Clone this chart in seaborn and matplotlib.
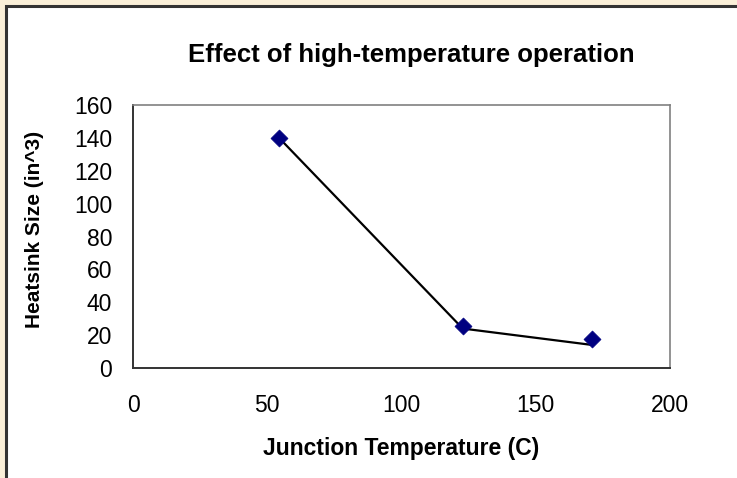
import matplotlib
matplotlib.use("Agg")
import matplotlib.pyplot as plt
import seaborn as sns
import pandas as pd
from matplotlib.patches import Rectangle

# Data
junction_temp = [54.4, 122.8, 171.1]
heatsink_size = [140.0, 25.7, 17.8]
line_temp = [54.4, 122.8, 171.1]
line_size = [140.0, 24.0, 14.0]
x_ticks = [0, 50, 100, 150, 200]
y_ticks = [0, 20, 40, 60, 80, 100, 120, 140, 160]

title = "Effect of high-temperature operation"
xlabel = "Junction Temperature (C)"
ylabel = "Heatsink Size (in^3)"

sns.set_theme(style="white")
plt.rcParams['font.family'] = ['Liberation Sans', 'DejaVu Sans']

W, H = 737, 478
fig = plt.figure(figsize=(W / 100, H / 100), dpi=100)
fig.patch.set_facecolor("#FAEFD8")

# white chart area with dark border
fig.patches.append(Rectangle((6 / W, -0.05), 1.1, 1 - 6 / H + 0.05,
                             transform=fig.transFigure, facecolor="white",
                             edgecolor="#333333", linewidth=2.2, zorder=-5))

ax = fig.add_axes([133 / W, 1 - 368 / H, (670 - 133) / W, (368 - 105) / H])
ax.set_zorder(2)
ax.set_facecolor("white")

pts = pd.DataFrame({"temp": junction_temp, "size": heatsink_size})
ln = pd.DataFrame({"temp": line_temp, "size": line_size})

sns.lineplot(data=ln, x="temp", y="size", ax=ax, color="black", linewidth=1.6,
             sort=False, zorder=2)
sns.scatterplot(data=pts, x="temp", y="size", ax=ax, marker="D", s=75,
                color="#000080", edgecolor="#000080", linewidth=0.5, zorder=3)

ax.set_xlim(0, 200)
ax.set_ylim(0, 160)
ax.set_xticks(x_ticks)
ax.set_yticks(y_ticks)
ax.tick_params(axis="both", direction="in", length=6, width=1.0, color="#333333",
               labelsize=16.5, labelcolor="black")
ax.tick_params(axis="y", pad=15)
ax.tick_params(axis="x", pad=19)

for side in ["top", "right"]:
    ax.spines[side].set_color("#808080")
    ax.spines[side].set_linewidth(1.2)
for side in ["left", "bottom"]:
    ax.spines[side].set_color("#333333")
    ax.spines[side].set_linewidth(1.4)

ax.set_xlabel(xlabel, fontsize=16.5, fontweight="bold", color="black", va="center")
ax.set_ylabel(ylabel, fontsize=15, fontweight="bold", color="black", va="center")
ax.xaxis.set_label_coords(0.5, (368 - 449) / 263)
ax.yaxis.set_label_coords((35 - 133) / 537, 0.528)

fig.text(411 / W, 1 - 55 / H, title, ha="center", va="center",
         fontsize=18.5, fontweight="bold", color="black")

fig.savefig("out.png", dpi=100, facecolor=fig.get_facecolor())
